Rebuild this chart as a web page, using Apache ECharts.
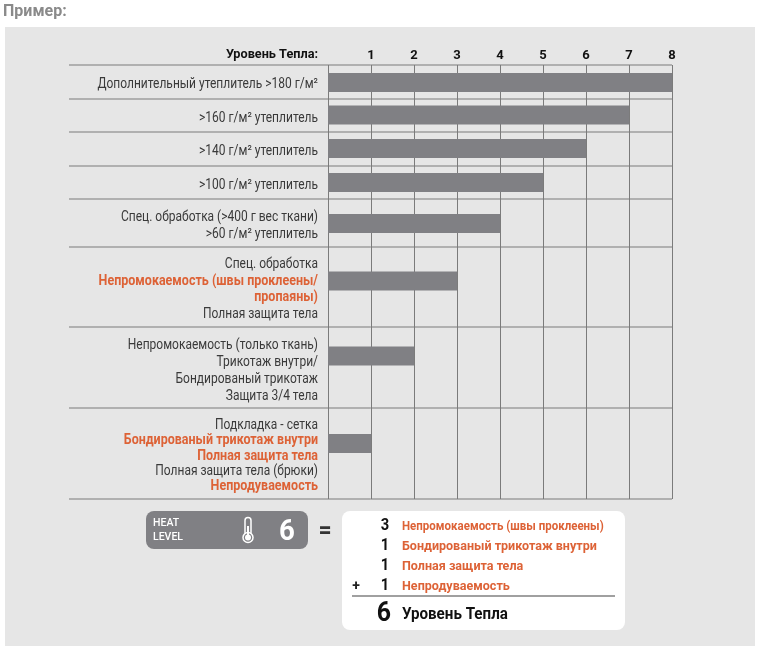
<!DOCTYPE html>
<html><head><meta charset="utf-8">
<style>html,body{margin:0;padding:0;background:#fff}#c{width:761px;height:651px}</style>
<script src="https://cdn.jsdelivr.net/npm/echarts@6/dist/echarts.min.js"></script>
</head><body><div id="c"></div>
<script>
// --- data ---
const levelTicks = [1, 2, 3, 4, 5, 6, 7, 8];
const axisTitle = 'Уровень Тепла:';
const levels = [8, 7, 6, 5, 4, 3, 2, 1];
const rowLines = [
  ['Дополнительный утеплитель >180 г/м²'],
  ['>160 г/м² утеплитель'],
  ['>140 г/м² утеплитель'],
  ['>100 г/м² утеплитель'],
  ['Спец. обработка (>400 г вес ткани)', '>60 г/м² утеплитель'],
  ['Спец. обработка', 'Непромокаемость (швы проклеены/', 'пропаяны)', 'Полная защита тела'],
  ['Непромокаемость (только ткань)', 'Трикотаж внутри/', 'Бондированый трикотаж', 'Защита 3/4 тела'],
  ['Подкладка - сетка', 'Бондированый трикотаж внутри', 'Полная защита тела', 'Полная защита тела (брюки)', 'Непродуваемость']
];
const accentLines = ['Непромокаемость (швы проклеены/', 'пропаяны)', 'Бондированый трикотаж внутри', 'Полная защита тела', 'Непродуваемость'];
const accentExceptions = { 5: ['Полная защита тела'] };
const sumValues = ['3', '1', '1', '1'];
const sumLabels = ['Непромокаемость (швы проклеены)', 'Бондированый трикотаж внутри', 'Полная защита тела', 'Непродуваемость'];
const totalValue = '6';
const totalLabel = 'Уровень Тепла';
const titleText = 'Пример:';

// --- layout (separate from the values) ---
const rowHeights = [34, 33, 34, 33, 48, 80, 81, 91];
const barCentres = [17.5, 16, 16.5, 16.5, 24.5, 34, 29, 35.5];
const labelCentres = [19.5, 19.5, 19.5, 19.5, 27, 42.5, 44, 48];
const linePitch = [17, 17, 17, 17, 17, 16.8, 17, 15.3];
const BAR_H = 19, GRID_L = 328, GRID_T = 65, UNIT = 43, LABEL_R = 318, RULE_L = 69;
const rowTops = rowHeights.reduce((a, h) => (a.push(a[a.length - 1] + h), a), [0]);
const FONT = 'Roboto, "Noto Sans", sans-serif';
const INK = '#3a3a3a', ORANGE = '#dd6236', GREY = '#808084';

const chart = echarts.init(document.getElementById('c'), null, { renderer: 'canvas' });

const panelGraphics = [
  { type: 'rect', z: -10, shape: { x: 5, y: 27, width: 750, height: 619 }, style: { fill: '#e6e6e6' } },
  { type: 'text', x: 318, y: 54.5, scaleX: 0.94, style: { text: axisTitle, fill: '#111', align: 'right', verticalAlign: 'middle', font: '700 13.5px ' + FONT } },
  { type: 'rect', shape: { x: 146, y: 511, width: 162, height: 38, r: 8 }, style: { fill: GREY } },
  { type: 'text', x: 153, y: 523, style: { text: 'HEAT', fill: '#fff', font: '500 10.5px ' + FONT, verticalAlign: 'middle' } },
  { type: 'text', x: 153, y: 537, style: { text: 'LEVEL', fill: '#fff', font: '500 10.5px ' + FONT, verticalAlign: 'middle' } },
  { type: 'rect', shape: { x: 245, y: 517.5, width: 6, height: 18, r: 3 }, style: { fill: 'none', stroke: '#fff', lineWidth: 1.5 } },
  { type: 'circle', shape: { cx: 248, cy: 537.5, r: 5 }, style: { fill: GREY, stroke: '#fff', lineWidth: 1.5 } },
  { type: 'circle', shape: { cx: 248, cy: 537.5, r: 3 }, style: { fill: '#fff' } },
  { type: 'rect', shape: { x: 247, y: 526, width: 2, height: 9 }, style: { fill: '#fff' } },
  { type: 'text', x: 287, y: 532, scaleX: 0.92, style: { text: totalValue, fill: '#fff', font: '700 30px ' + FONT, align: 'center', verticalAlign: 'middle' } },
  { type: 'text', x: 325, y: 532, style: { text: '=', fill: '#333', font: '700 23px ' + FONT, align: 'center', verticalAlign: 'middle' } },
  { type: 'rect', shape: { x: 342, y: 511, width: 283, height: 119, r: 8 }, style: { fill: '#fff' } },
  { type: 'line', shape: { x1: 352, y1: 596, x2: 615, y2: 596 }, style: { stroke: '#808080', lineWidth: 1.5 } },
  { type: 'text', x: 356, y: 586, style: { text: '+', fill: '#222', font: '700 14px ' + FONT, align: 'center', verticalAlign: 'middle' } },
  { type: 'text', x: 384, y: 614, scaleX: 0.92, style: { text: totalValue, fill: '#111', font: '700 27px ' + FONT, align: 'center', verticalAlign: 'middle' } },
  { type: 'text', x: 402, y: 615, scaleX: 0.92, style: { text: totalLabel, fill: '#111', font: '700 16.5px ' + FONT, verticalAlign: 'middle' } }
];
const sumRowsY = [526.5, 546.5, 566.5, 586.5];
const sumScales = [0.885, 0.965, 0.965, 0.965];
sumValues.forEach((v, i) => {
  panelGraphics.push({ type: 'text', x: 385, y: sumRowsY[i] - 0.5, scaleX: 0.92, style: { text: v, fill: '#111', font: '700 16px ' + FONT, align: 'center', verticalAlign: 'middle' } });
  panelGraphics.push({ type: 'text', x: 402, y: sumRowsY[i], scaleX: sumScales[i], style: { text: sumLabels[i], fill: ORANGE, font: '700 13px ' + FONT, verticalAlign: 'middle' } });
});

function isAccent(row, line) {
  if (accentExceptions[row] && accentExceptions[row].includes(line)) return false;
  return accentLines.includes(line);
}

chart.setOption({
  animation: false,
  backgroundColor: '#fff',
  title: { text: titleText, left: 3, top: 4, padding: 0, textStyle: { color: '#8a8a8a', fontFamily: FONT, fontSize: 16, fontWeight: 700 } },
  graphic: { elements: panelGraphics },
  grid: { left: GRID_L, top: GRID_T, width: UNIT * 8, height: rowTops[rowTops.length - 1] },
  xAxis: {
    type: 'value', position: 'top', min: 0, max: 8, interval: 1,
    axisLine: { show: false }, axisTick: { show: false },
    axisLabel: { color: '#111', fontFamily: FONT, fontSize: 13, fontWeight: 700, margin: 3,
      formatter: v => levelTicks.includes(v) ? String(v) : '' },
    splitLine: { show: true, lineStyle: { color: '#7b7b7b', width: 1 } }
  },
  yAxis: { type: 'value', inverse: true, min: 0, max: rowTops[rowTops.length - 1], show: false, splitLine: { show: false } },
  series: [
    { // horizontal row rules
      type: 'custom', coordinateSystem: 'cartesian2d', clip: false, z: 1, silent: true,
      data: rowTops.map((t, i) => [0, t, i]),
      encode: { x: 0, y: 1 },
      renderItem: (p, api) => {
        const a = api.coord([0, api.value(1)]);
        const b = api.coord([8, api.value(1)]);
        return { type: 'line', shape: { x1: RULE_L, y1: a[1] , x2: b[0], y2: a[1] }, style: { stroke: '#7b7b7b', lineWidth: 1 } };
      }
    },
    { // level bars
      type: 'custom', coordinateSystem: 'cartesian2d', z: 3, silent: true,
      data: levels.map((v, i) => [v, rowTops[i] + barCentres[i]]),
      encode: { x: 0, y: 1 },
      renderItem: (p, api) => {
        const s = api.coord([0, api.value(1)]);
        const e = api.coord([api.value(0), api.value(1)]);
        return { type: 'rect', shape: { x: s[0], y: s[1] - BAR_H / 2, width: e[0] - s[0], height: BAR_H }, style: { fill: GREY } };
      }
    },
    { // row labels
      type: 'custom', coordinateSystem: 'cartesian2d', clip: false, z: 4, silent: true,
      data: rowLines.map((l, i) => [0, rowTops[i] + labelCentres[i], i]),
      encode: { x: 0, y: 1 },
      renderItem: (p, api) => {
        const row = api.value(2), lines = rowLines[row];
        const c = api.coord([0, api.value(1)]);
        return { type: 'group', children: lines.map((t, i) => {
          const acc = isAccent(row, t);
          return { type: 'text', x: LABEL_R, y: c[1] + (i - (lines.length - 1) / 2) * linePitch[row],
            scaleX: acc ? 0.893 : 0.857,
            style: { text: t, fill: acc ? ORANGE : INK, align: 'right', verticalAlign: 'middle',
              font: (acc ? '700 ' : '400 ') + '14px ' + FONT } };
        }) };
      }
    }
  ]
});
</script></body></html>
